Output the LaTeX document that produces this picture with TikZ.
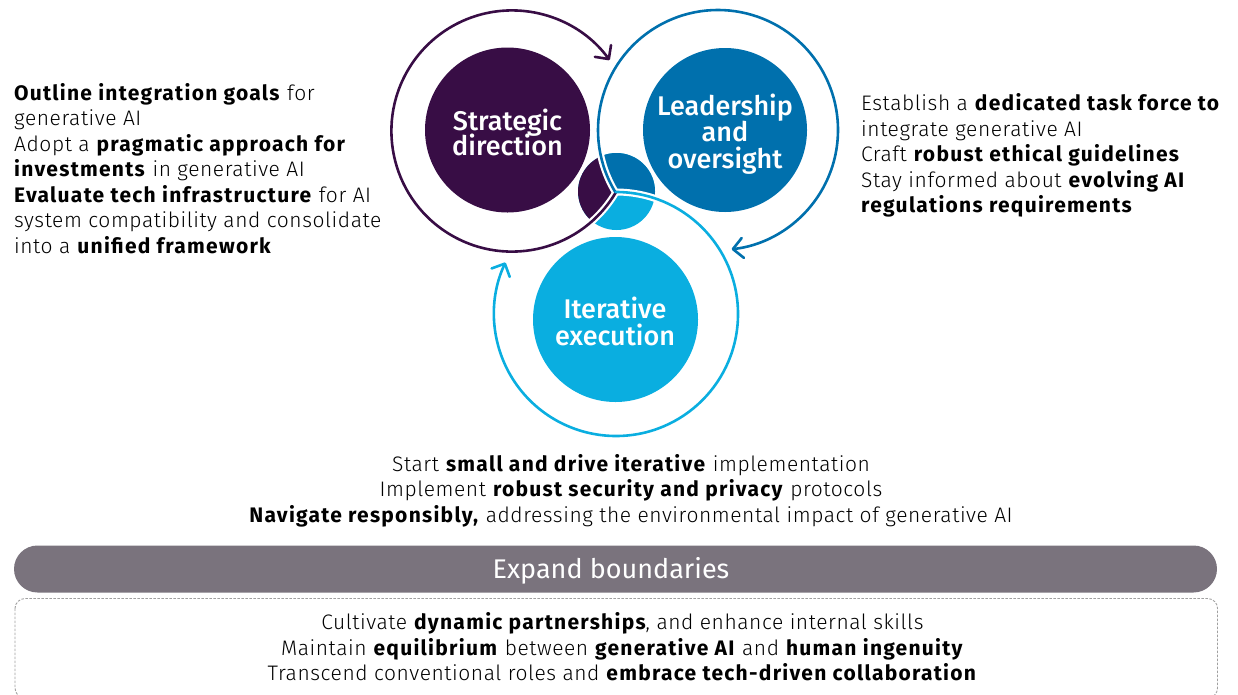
\documentclass[tikz,border=0pt]{standalone}
\usepackage{fontspec}
\setmainfont{Fira Sans}[UprightFont={* Light}, BoldFont={* Bold}, UprightFeatures={LetterSpace=2.7}, BoldFeatures={LetterSpace=6}]
\newfontfamily\medfont{Fira Sans Medium}
\newfontfamily\regfont{Fira Sans}
\usetikzlibrary{arrows.meta}
\definecolor{cpurple}{HTML}{380D45}
\definecolor{cblue}{HTML}{0070AD}
\definecolor{clblue}{HTML}{0AAEE0}
\definecolor{cgray}{HTML}{7A737D}
\definecolor{cdash}{HTML}{A0A0A0}
\tikzset{
  halo/.style={draw=white, line width=7pt},
  ring/.style={line width=2.6pt, line cap=round, -{Straight Barb[length=10pt,width=20pt,round]}},
  txt/.style={anchor=base west, inner sep=0pt, font=\fontsize{21}{25.5}\selectfont},
  ctxt/.style={anchor=base, inner sep=0pt, font=\fontsize{21}{25.5}\selectfont},
  ltxt/.style={anchor=base, inner sep=0pt, text=white, font=\medfont\fontsize{27}{30}\selectfont},
}
\begin{document}
\begin{tikzpicture}[x=1pt,y=-1pt]
\useasboundingbox (0,0) rectangle (1238,694);
\clip (0,0) rectangle (1238,694);
\coordinate (Pc) at (512,131);
\coordinate (Bc) at (718,130);
\coordinate (Lc) at (616,314);

% big filled circles
\fill[cpurple] (507.5,130) circle[radius=82.5];
\fill[cblue] (725,130) circle[radius=82];
\fill[clblue] (615.5,319.5) circle[radius=82.5];

% small centre circle split in three
\begin{scope}
  \clip (616.5,191.5) circle[radius=38.5];
  \fill[clblue] (616.5,191.5) circle[radius=40];
  \fill[cpurple] (Bc) ++(148.7:120) arc[start angle=148.7, end angle=190, radius=120]
     -- (540,109) -- (540,260) -- (572.3,235.4)
     arc[start angle=60, end angle=30.4, radius=120.6] -- cycle;
  \fill[cblue] (Bc) ++(148.7:120) arc[start angle=148.7, end angle=190, radius=120]
     -- (700,109) -- (700,200) -- (694.4,220.5)
     arc[start angle=310, end angle=270, radius=122] -- cycle;
\end{scope}

% white halos
\draw[halo] (Pc) ++(30.4:120.6) arc[start angle=30.4, end angle=90, radius=120.6];
\draw[halo] (Bc) ++(148.7:120) arc[start angle=148.7, end angle=200, radius=120];
\draw[halo] (Lc) ++(270:122) arc[start angle=270, end angle=330, radius=122];

% ring arrows
\draw[ring, cpurple] (Pc) ++(30.4:120.6) arc[start angle=30.4, end angle=324, radius=120.6];
\draw[ring, cblue] (Bc) ++(148.7:120) arc[start angle=148.7, end angle=443.5, radius=120];
\draw[ring, clblue] (Lc) ++(270:122) arc[start angle=270, end angle=565, radius=122];

% circle labels
\node[ltxt] (s1) at (507.5,130) {Strategic};
\node[ltxt] (s2) at (507.5,155.5) {direction};
\node[ltxt] (l1) at (725,115) {Leadership};
\node[ltxt] (l2) at (725,141.5) {and};
\node[ltxt] (l3) at (725,168) {oversight};
\node[ltxt] (i1) at (615,318) {Iterative};
\node[ltxt] (i2) at (615,345) {execution};

% left text
\node[txt] (a1) at (14,100) {\textbf{Outline integration goals} for};
\node[txt] (a2) at (14,125.5) {generative AI};
\node[txt] (a3) at (14,151) {Adopt a \textbf{pragmatic approach for}};
\node[txt] (a4) at (14,176.5) {\textbf{investments} in generative AI};
\node[txt] (a5) at (14,202) {\textbf{Evaluate tech infrastructure} for AI};
\node[txt] (a6) at (14,227.5) {system compatibility and consolidate};
\node[txt] (a7) at (14,253) {into a \textbf{unified framework}};

% right text
\node[txt] (b1) at (861,110.5) {Establish a \textbf{dedicated task force to}};
\node[txt] (b2) at (861,136) {integrate generative AI};
\node[txt] (b3) at (861,161.5) {Craft \textbf{robust ethical guidelines}};
\node[txt] (b4) at (861,187) {Stay informed about \textbf{evolving AI}};
\node[txt] (b5) at (861,212.5) {\textbf{regulations requirements}};

% bottom text
\node[ctxt] (c1) at (631,471) {Start \textbf{small and drive iterative} implementation};
\node[ctxt] (c2) at (631,496.5) {Implement \textbf{robust security and privacy} protocols};
\node[ctxt] (c3) at (631,522) {\textbf{Navigate responsibly,} addressing the environmental impact of generative AI};

% expand bar
\fill[cgray, rounded corners=23.5pt] (14,545.5) rectangle (1217,592.5);
\node[anchor=base, inner sep=0pt, text=white, font=\regfont\fontsize{27}{30}\selectfont] (eb) at (611,578) {Expand boundaries};

% dashed box
\draw[cdash, line width=0.9pt, dash pattern=on 2.5pt off 1.5pt, rounded corners=10pt] (15,598.5) rectangle (1217.5,698);
\node[ctxt] (d1) at (622.5,629.5) {Cultivate \textbf{dynamic partnerships}, and enhance internal skills};
\node[ctxt] (d2) at (622.5,655) {Maintain \textbf{equilibrium} between \textbf{generative AI} and \textbf{human ingenuity}};
\node[ctxt] (d3) at (622.5,680.5) {Transcend conventional roles and \textbf{embrace tech-driven collaboration}};
\end{tikzpicture}
\end{document}
